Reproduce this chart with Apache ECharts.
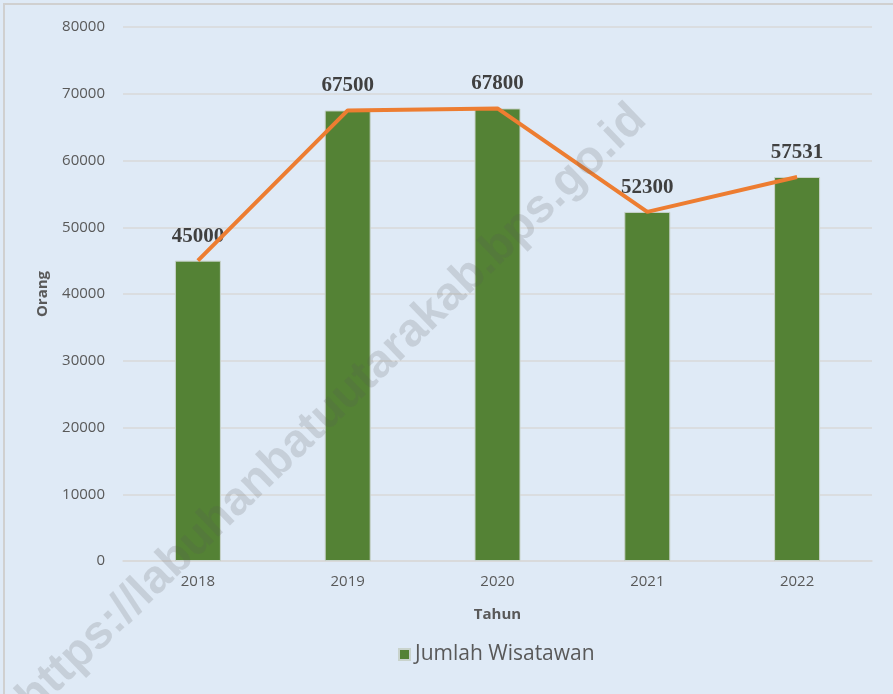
<!DOCTYPE html>
<html>
<head>
<meta charset="utf-8">
<script src="https://cdn.jsdelivr.net/npm/echarts@6/dist/echarts.min.js"></script>
<style>
    html, body { margin: 0; padding: 0; background: #fff; }
    #chart { width: 893px; height: 694px; }
</style>
</head>
<body>
<div id="chart"></div>
<script>
    // data
    let tahun = ['2018', '2019', '2020', '2021', '2022']
    let jumlahWisatawan = [45000, 67500, 67800, 52300, 57531]
    let yTicks = [0, 10000, 20000, 30000, 40000, 50000, 60000, 70000, 80000]

    let option = {
        backgroundColor: '#dfeaf6',
        animation: false,
        grid: {
            left: 123,
            right: 21,
            top: 27,
            bottom: 133
        },
        legend: {
            data: ['Jumlah Wisatawan'],
            bottom: 24,
            left: 393,
            itemWidth: 11,
            itemHeight: 11,
            itemGap: 4,
            icon: 'rect',
            textStyle: {
                fontFamily: 'Open Sans, sans-serif',
                fontSize: 21,
                color: '#595959'
            }
        },
        xAxis: {
            type: 'category',
            data: tahun,
            name: 'Tahun',
            nameLocation: 'middle',
            nameGap: 46,
            nameTextStyle: {
                fontFamily: 'Open Sans, sans-serif',
                fontWeight: 'bold',
                fontSize: 15,
                color: '#595959'
            },
            axisLine: {lineStyle: {color: '#d9d9d9', width: 1.5}},
            axisTick: {show: false},
            axisLabel: {
                margin: 13,
                fontFamily: 'Open Sans, sans-serif',
                fontSize: 15,
                color: '#595959'
            }
        },
        yAxis: {
            type: 'value',
            min: yTicks[0],
            max: yTicks[yTicks.length - 1],
            interval: 10000,
            name: 'Orang',
            nameLocation: 'middle',
            nameGap: 73,
            nameTextStyle: {
                fontFamily: 'Open Sans, sans-serif',
                fontWeight: 'bold',
                fontSize: 15,
                color: '#595959'
            },
            axisLine: {show: false},
            axisTick: {show: false},
            splitLine: {lineStyle: {color: '#d9d9d9', width: 1.5}},
            axisLabel: {
                margin: 18,
                formatter: function (v) { return String(v) },
                fontFamily: 'Open Sans, sans-serif',
                fontSize: 15,
                color: '#595959'
            }
        },
        series: [
            {
                name: 'Jumlah Wisatawan',
                type: 'bar',
                data: jumlahWisatawan,
                barWidth: 46,
                itemStyle: {
                    color: '#548235',
                    borderColor: '#c9d3cc',
                    borderWidth: 1
                },
                label: {
                    show: true,
                    position: 'top',
                    distance: 14,
                    fontFamily: 'Liberation Serif, serif',
                    fontWeight: 'bold',
                    fontSize: 21,
                    color: '#404040'
                },
                z: 2
            },
            {
                name: 'Tren',
                type: 'line',
                data: jumlahWisatawan,
                showSymbol: false,
                lineStyle: {color: '#ed7d31', width: 4},
                itemStyle: {color: '#ed7d31'},
                z: 3
            }
        ],
        graphic: [
            {
                type: 'rect',
                shape: {x: 4, y: 4, width: 900, height: 700},
                style: {fill: 'none', stroke: '#d0d0d0', lineWidth: 2},
                silent: true,
                z: 0
            },
            {
                type: 'text',
                x: 332,
                y: 409,
                rotation: 44 * Math.PI / 180,
                style: {
                    text: 'https://labuhanbatuutarakab.bps.go.id',
                    font: 'bold 47px Liberation Sans, Arial, sans-serif',
                    fill: 'rgba(90,90,90,0.18)',
                    align: 'center',
                    verticalAlign: 'middle'
                },
                silent: true,
                z: 100
            }
        ]
    }

    let myChart = echarts.init(document.getElementById('chart'))
    myChart.setOption(option)
</script>
</body>
</html>
